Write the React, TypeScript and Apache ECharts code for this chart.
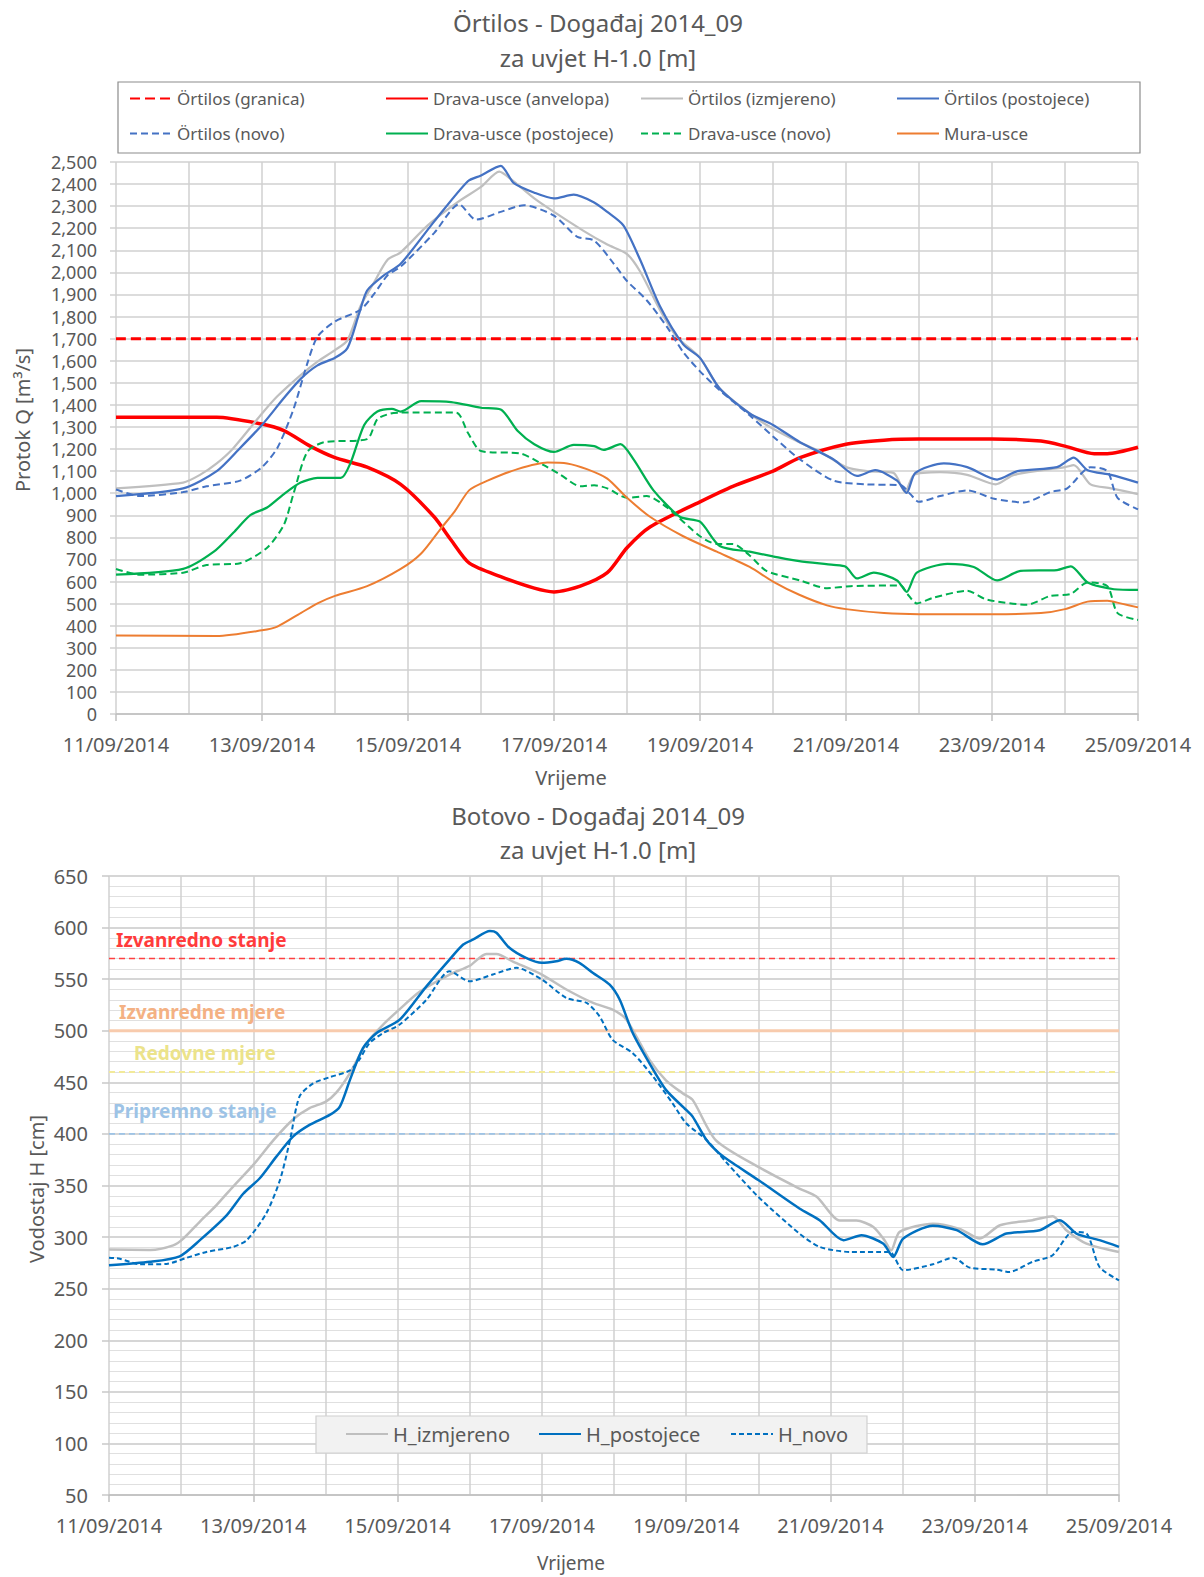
import React, { useEffect, useRef } from 'react';
import * as echarts from 'echarts';

// ---------- DATA ----------
// x = days since 11/09/2014 00:00
const startDay = 11;

const ortilosGranica: [number, number][] = [[0, 1700], [14, 1700]];
const dravaAnvelopa: [number, number][] = [[0, 1344], [1.38, 1344], [2.0, 1313], [2.3, 1283], [2.66, 1213], [3.0, 1161], [3.44, 1118], [3.9, 1040], [4.36, 892], [4.59, 788], [4.84, 683], [5.27, 622], [5.73, 570], [6.0, 553], [6.36, 579], [6.73, 640], [7.0, 753], [7.32, 848], [8.0, 961], [8.45, 1031], [9.0, 1100], [9.37, 1161], [10.0, 1222], [10.52, 1240], [11.0, 1245], [12.0, 1245], [12.67, 1236], [13.0, 1213], [13.4, 1179], [13.58, 1179], [14, 1208]];
const ortilosIzmjereno: [number, number][] = [[0, 1022], [0.92, 1048], [1.15, 1083], [1.38, 1135], [1.61, 1205], [2.0, 1361], [2.21, 1439], [2.53, 1535], [2.76, 1596], [3.0, 1648], [3.17, 1692], [3.35, 1848], [3.53, 1952], [3.72, 2057], [3.9, 2091], [4.27, 2213], [4.68, 2318], [5.0, 2387], [5.25, 2456], [5.41, 2422], [5.73, 2335], [6.0, 2274], [6.41, 2187], [6.73, 2126], [7.0, 2083], [7.18, 2004], [7.45, 1831], [7.68, 1709], [8.0, 1613], [8.27, 1474], [8.68, 1361], [9.0, 1292], [9.36, 1231], [9.65, 1187], [10.0, 1118], [10.29, 1100], [10.65, 1092], [10.81, 1005], [10.93, 1083], [11.29, 1095], [11.66, 1083], [12.05, 1040], [12.3, 1083], [13.0, 1118], [13.12, 1127], [13.35, 1040], [13.63, 1022], [14, 996]];
const ortilosPostojece: [number, number][] = [[0, 987], [0.92, 1022], [1.38, 1100], [1.7, 1205], [2.0, 1309], [2.3, 1431], [2.53, 1518], [2.76, 1579], [3.0, 1613], [3.17, 1657], [3.33, 1813], [3.44, 1918], [3.67, 1987], [3.9, 2039], [4.36, 2231], [4.82, 2413], [5.0, 2439], [5.27, 2483], [5.45, 2404], [5.73, 2361], [6.0, 2335], [6.27, 2352], [6.55, 2317], [6.73, 2274], [6.95, 2213], [7.18, 2057], [7.45, 1848], [7.77, 1674], [8.0, 1613], [8.27, 1474], [8.68, 1361], [9.0, 1309], [9.37, 1231], [9.83, 1153], [10.15, 1078], [10.4, 1104], [10.7, 1057], [10.83, 1001], [10.95, 1092], [11.34, 1135], [11.66, 1118], [12.07, 1062], [12.35, 1100], [12.89, 1118], [13.12, 1161], [13.31, 1104], [13.63, 1083], [14, 1048]];
const ortilosNovo: [number, number][] = [[0, 1017], [0.33, 987], [0.92, 1005], [1.24, 1031], [1.7, 1057], [2.0, 1118], [2.21, 1205], [2.43, 1379], [2.62, 1587], [2.76, 1709], [3.0, 1778], [3.35, 1831], [3.53, 1900], [3.72, 1987], [3.9, 2026], [4.36, 2179], [4.7, 2309], [4.93, 2239], [5.27, 2274], [5.59, 2304], [6.0, 2257], [6.32, 2161], [6.55, 2144], [6.82, 2039], [7.0, 1961], [7.27, 1874], [7.55, 1752], [7.77, 1639], [8.0, 1552], [8.27, 1466], [8.68, 1353], [9.0, 1257], [9.37, 1153], [9.83, 1057], [10.29, 1040], [10.75, 1036], [10.88, 996], [11.0, 961], [11.29, 987], [11.66, 1013], [12.03, 975], [12.44, 958], [12.8, 1005], [13.03, 1022], [13.35, 1118], [13.58, 1100], [13.72, 979], [14, 927]];
const dravaPostojece: [number, number][] = [[0, 631], [0.92, 657], [1.34, 735], [1.61, 822], [1.84, 901], [2.07, 935], [2.3, 996], [2.53, 1048], [2.76, 1069], [3.08, 1069], [3.21, 1135], [3.4, 1309], [3.58, 1370], [3.78, 1382], [3.9, 1370], [4.18, 1417], [4.59, 1413], [5.0, 1387], [5.27, 1379], [5.5, 1283], [5.73, 1222], [6.0, 1187], [6.27, 1219], [6.55, 1213], [6.68, 1196], [6.91, 1222], [7.09, 1153], [7.36, 1014], [7.73, 892], [8.0, 871], [8.27, 761], [8.68, 735], [9.0, 714], [9.36, 692], [9.83, 675], [10.0, 666], [10.15, 614], [10.38, 640], [10.7, 605], [10.83, 553], [10.97, 640], [11.39, 680], [11.75, 666], [12.07, 605], [12.39, 648], [12.89, 652], [13.08, 669], [13.31, 596], [13.67, 565], [14, 562]];
const dravaNovo: [number, number][] = [[0, 657], [0.33, 631], [0.92, 640], [1.24, 675], [1.7, 683], [2.07, 753], [2.3, 857], [2.43, 996], [2.62, 1187], [2.85, 1231], [3.44, 1245], [3.58, 1335], [3.76, 1361], [3.9, 1365], [4.66, 1365], [4.82, 1274], [5.0, 1191], [5.55, 1179], [5.86, 1127], [6.09, 1083], [6.36, 1031], [6.55, 1036], [6.73, 1022], [7.0, 979], [7.27, 987], [7.55, 935], [8.0, 805], [8.23, 770], [8.45, 770], [8.68, 718], [8.91, 648], [9.37, 605], [9.74, 570], [10.06, 579], [10.75, 582], [10.84, 544], [10.97, 501], [11.2, 527], [11.66, 558], [11.93, 518], [12.48, 495], [12.8, 535], [13.08, 544], [13.31, 596], [13.58, 579], [13.72, 457], [14, 426]];
const muraUsce: [number, number][] = [[0, 356], [1.38, 353], [2.0, 379], [2.21, 396], [2.53, 457], [2.76, 501], [3.0, 535], [3.44, 579], [3.9, 657], [4.18, 727], [4.45, 840], [4.64, 918], [4.84, 1014], [5.09, 1057], [5.5, 1109], [5.91, 1139], [6.18, 1135], [6.45, 1109], [6.73, 1066], [7.0, 979], [7.32, 892], [7.77, 805], [8.23, 735], [8.68, 666], [9.0, 600], [9.36, 540], [9.74, 492], [10.0, 475], [10.52, 457], [11.0, 452], [12.0, 452], [12.67, 457], [13.0, 475], [13.31, 509], [13.58, 513], [13.76, 501], [14, 483]];

const hIzmjereno: [number, number][] = [[0, 288], [0.57, 287.5], [0.89, 292], [1.03, 298.5], [1.26, 315], [1.49, 331], [1.72, 349], [2.0, 370], [2.28, 394], [2.55, 414], [2.78, 425], [3.0, 431], [3.15, 440], [3.34, 459], [3.57, 488], [3.8, 506], [4.03, 521], [4.31, 538], [4.72, 554.5], [5.0, 563], [5.23, 574.5], [5.37, 574.5], [5.6, 567], [6.0, 554.5], [6.34, 540], [6.71, 527], [6.98, 520.5], [7.17, 511], [7.49, 472], [7.72, 452], [7.95, 439.5], [8.09, 433], [8.41, 394], [9.0, 368], [9.57, 347], [9.81, 339], [10.13, 316], [10.36, 316], [10.59, 310], [10.75, 297], [10.84, 287], [10.96, 305], [11.42, 313], [11.79, 308], [12.07, 298.6], [12.35, 311.5], [12.8, 316.4], [13.08, 320.3], [13.27, 306.7], [13.55, 293.7], [14, 285.6]];
const hPostojece: [number, number][] = [[0, 272.7], [0.57, 276], [0.98, 281.4], [1.26, 297], [1.63, 321], [1.86, 342], [2.09, 357], [2.32, 378], [2.55, 397.4], [2.78, 408.7], [3.06, 418.4], [3.2, 426.5], [3.34, 452.4], [3.52, 483.2], [3.71, 497.8], [4.03, 510.7], [4.4, 543], [4.72, 569], [4.91, 583.6], [5.05, 588.5], [5.28, 596.6], [5.37, 595], [5.55, 580.4], [5.78, 570.6], [6.0, 565.8], [6.2, 567.4], [6.34, 569.7], [6.52, 565.8], [6.71, 556], [6.94, 544.7], [7.08, 530], [7.26, 497.8], [7.49, 468.6], [7.72, 442.7], [8.0, 423.3], [8.09, 416.8], [8.28, 394.4], [8.46, 381.2], [8.65, 371.5], [9.0, 355.3], [9.57, 327.7], [9.85, 316.4], [10.18, 297], [10.43, 301.8], [10.73, 293.7], [10.87, 280.8], [11.01, 298.6], [11.42, 311], [11.75, 306.7], [12.11, 293], [12.44, 303.4], [12.9, 306.7], [13.18, 316.4], [13.41, 303.4], [13.73, 297], [14, 290.5]];
const hNovo: [number, number][] = [[0, 280], [0.15, 279], [0.43, 273.6], [0.8, 274], [1.08, 280], [1.35, 285.6], [1.72, 290.5], [1.91, 297], [2.18, 323], [2.37, 355.3], [2.51, 394.4], [2.64, 436.2], [2.83, 449], [3.06, 455], [3.34, 461.5], [3.47, 472], [3.61, 488], [3.8, 497.8], [4.03, 506], [4.4, 530], [4.72, 557.7], [5.0, 548], [5.32, 554.5], [5.65, 561], [6.0, 549.6], [6.34, 531.8], [6.62, 527], [6.8, 514], [6.98, 491.3], [7.26, 478.3], [7.54, 455.7], [7.81, 429.8], [8.0, 410.3], [8.28, 394.4], [8.55, 373], [9.0, 339], [9.57, 303.4], [9.85, 290.5], [10.27, 285.6], [10.82, 285.6], [11.01, 267.8], [11.42, 273.6], [11.7, 280], [11.93, 270.4], [12.3, 268.5], [12.48, 266.2], [12.8, 276], [13.08, 282.4], [13.36, 305], [13.55, 303.4], [13.73, 271], [14, 258]];

const thresholdNames = ['Izvanredno stanje', 'Izvanredne mjere', 'Redovne mjere', 'Pripremno stanje'];
const thresholdValues = [570, 500, 460, 400];

// ---------- STYLE ----------
const FONT = "'Noto Sans', 'Open Sans', sans-serif";
const TXT = '#595959';
const GRID = '#d0d0d0';

const dayLabel = (v: number) => `${startDay + v}/09/2014`;

const lineSeries = (name: string, data: [number, number][], color: string, width: number, idx: number, dash?: number[], z = 3) => ({
  name,
  type: 'line',
  xAxisIndex: idx,
  yAxisIndex: idx,
  data,
  symbol: 'none',
  showSymbol: false,
  smooth: 0.25,
  z,
  lineStyle: { color, width, type: dash ? dash : 'solid' },
  itemStyle: { color },
  silent: true,
});

const thresholdStyles = [
  { color: '#ff4040', width: 1.6, dash: [6, 4], text: '#ff3b3b', dx: 116, dy: 19 },
  { color: '#f8cbad', width: 3, dash: null, text: '#f4b183', dx: 119, dy: 19 },
  { color: '#f2ea9a', width: 2, dash: [6, 4], text: '#ece38a', dx: 134, dy: 19 },
  { color: '#9dc3e6', width: 1.6, dash: [6, 4], text: '#9dc3e6', dx: 113, dy: 23 },
];

export default function App() {
  const ref = useRef<HTMLDivElement>(null);
  useEffect(() => {
    const chart = echarts.init(ref.current!, null, { renderer: 'svg', width: 1204, height: 1577 });

    const xAxisBase = (gridIndex: number) => ({
      type: 'value',
      gridIndex,
      min: 0,
      max: 14,
      interval: 2,
      axisLine: { show: true, lineStyle: { color: '#bfbfbf', width: 1.5 } },
      axisTick: { show: true, length: 7, lineStyle: { color: '#bfbfbf', width: 1.5 } },
      axisLabel: { formatter: dayLabel, margin: 20, fontSize: 20, color: TXT, fontFamily: FONT, showMinLabel: true, showMaxLabel: true },
      splitLine: { show: true, lineStyle: { color: GRID, width: 1.5 } },
      minorTick: { show: false, splitNumber: 2 },
      minorSplitLine: { show: true, lineStyle: { color: GRID, width: 1.5 } },
    });

    const topNames = ['Örtilos (granica)', 'Drava-usce (anvelopa)', 'Örtilos (izmjereno)', 'Örtilos (postojece)', 'Örtilos (novo)', 'Drava-usce (postojece)', 'Drava-usce (novo)', 'Mura-usce'];
    const colX = [129, 385, 640, 896];
    const rowY = [90, 125];
    const topLegends = topNames.map((n, i) => ({
      data: [n],
      left: colX[i % 4],
      top: rowY[Math.floor(i / 4)],
      padding: 0,
      itemWidth: 42,
      itemHeight: 14,
      selectedMode: false,
      itemStyle: { opacity: 0 },
      textStyle: { fontSize: 17, color: TXT, fontFamily: FONT },
    }));
    const botNames = ['H_izmjereno', 'H_postojece', 'H_novo'];
    const botX = [345, 538, 730];
    const botLegends = botNames.map((n, i) => ({
      data: [n],
      left: botX[i],
      top: 1424,
      padding: 0,
      itemWidth: 42,
      itemHeight: 14,
      selectedMode: false,
      itemStyle: { opacity: 0 },
      z: 60,
      textStyle: { fontSize: 20, color: TXT, fontFamily: FONT },
    }));

    const thresholdSeries = thresholdValues.map((v, i) => ({
      name: thresholdNames[i],
      type: 'line',
      xAxisIndex: 1,
      yAxisIndex: 1,
      data: [[0, v], [14, v]],
      symbol: 'none',
      silent: true,
      z: 2,
      lineStyle: { color: thresholdStyles[i].color, width: thresholdStyles[i].width, type: thresholdStyles[i].dash || 'solid' },
    }));

    const titleText = (id: string, text: string, y: number) => ({
      id, type: 'text', x: 598, y,
      style: { text, fontSize: 24, fill: TXT, fontFamily: FONT, align: 'center', verticalAlign: 'middle' },
    });

    const option: any = {
      animation: false,
      backgroundColor: '#ffffff',
      grid: [
        { left: 116, top: 162, width: 1022, height: 552 },
        { left: 109, top: 876, width: 1010, height: 619 },
      ],
      xAxis: [xAxisBase(0), xAxisBase(1)],
      yAxis: [
        {
          type: 'value', gridIndex: 0, min: 0, max: 2500, interval: 100,
          axisLine: { show: false },
          axisTick: { show: true, length: 6, lineStyle: { color: GRID, width: 1.5 } },
          axisLabel: { formatter: (v: number) => v.toLocaleString('en-US'), margin: 19, fontSize: 18, lineHeight: 20, color: TXT, fontFamily: FONT },
          splitLine: { show: true, lineStyle: { color: GRID, width: 1.5 } },
        },
        {
          type: 'value', gridIndex: 1, min: 50, max: 650, interval: 50,
          axisLine: { show: false },
          axisTick: { show: true, length: 7, lineStyle: { color: '#c8c8c8', width: 1.5 } },
          axisLabel: { margin: 21, fontSize: 20, color: TXT, fontFamily: FONT },
          splitLine: { show: true, lineStyle: { color: '#c8c8c8', width: 1.5 } },
          minorTick: { show: false, splitNumber: 5 },
          minorSplitLine: { show: true, lineStyle: { color: '#e0e0e0', width: 1.2 } },
        },
      ],
      legend: [...topLegends, ...botLegends],
      series: [
        lineSeries('Örtilos (granica)', ortilosGranica, '#ff0000', 3, 0, [10, 5]),
        lineSeries('Drava-usce (anvelopa)', dravaAnvelopa, '#ff0000', 3.5, 0),
        lineSeries('Örtilos (izmjereno)', ortilosIzmjereno, '#bfbfbf', 2.25, 0),
        lineSeries('Örtilos (postojece)', ortilosPostojece, '#4472c4', 2.25, 0),
        lineSeries('Örtilos (novo)', ortilosNovo, '#4472c4', 2, 0, [7, 4]),
        lineSeries('Drava-usce (postojece)', dravaPostojece, '#00b050', 2.25, 0),
        lineSeries('Drava-usce (novo)', dravaNovo, '#00b050', 2, 0, [7, 4]),
        lineSeries('Mura-usce', muraUsce, '#ed7d31', 2, 0),
        ...thresholdSeries,
        lineSeries('H_izmjereno', hIzmjereno, '#bfbfbf', 2.5, 1),
        lineSeries('H_postojece', hPostojece, '#0070c0', 2.5, 1),
        lineSeries('H_novo', hNovo, '#0070c0', 2, 1, [5, 3]),
      ],
      graphic: [
        titleText('t1', 'Örtilos - Događaj 2014_09', 22),
        titleText('t2', 'za uvjet H-1.0 [m]', 57),
        titleText('t3', 'Botovo - Događaj 2014_09', 815),
        titleText('t4', 'za uvjet H-1.0 [m]', 849),
        {
          id: 'lgbox1', type: 'rect', z: 1,
          shape: { x: 118, y: 82, width: 1022, height: 71 },
          style: { fill: 'rgba(0,0,0,0)', stroke: '#8c8c8c', lineWidth: 1.2 },
        },
        {
          id: 'lgbox2', type: 'rect', z: 50,
          shape: { x: 316, y: 1416, width: 551, height: 37 },
          style: { fill: '#f2f2f2', stroke: '#d0d0d0', lineWidth: 1.2 },
        },
        {
          id: 'yname1', type: 'text', x: 22, y: 420, rotation: Math.PI / 2,
          style: { text: 'Protok Q [m³/s]', fontSize: 20, fill: TXT, fontFamily: FONT, align: 'center', verticalAlign: 'middle' },
        },
        {
          id: 'yname2', type: 'text', x: 36, y: 1189, rotation: Math.PI / 2,
          style: { text: 'Vodostaj H [cm]', fontSize: 20, fill: TXT, fontFamily: FONT, align: 'center', verticalAlign: 'middle' },
        },
        {
          id: 'xname1', type: 'text', x: 571, y: 777,
          style: { text: 'Vrijeme', fontSize: 20, fill: TXT, fontFamily: FONT, align: 'center', verticalAlign: 'middle' },
        },
        {
          id: 'xname2', type: 'text', x: 571, y: 1563,
          style: { text: 'Vrijeme', fontSize: 19, fill: TXT, fontFamily: FONT, align: 'center', verticalAlign: 'middle' },
        },
      ],
    };
    chart.setOption(option);

    const labels = thresholdValues.map((v, i) => {
      const p = chart.convertToPixel({ gridIndex: 1 } as any, [0, v]) as number[];
      const s = thresholdStyles[i];
      return {
        id: 'thr' + i, type: 'text', x: s.dx, y: p[1] - s.dy, z: 5,
        style: { text: thresholdNames[i], fontSize: 19, fontWeight: 'bold', fill: s.text, fontFamily: FONT, align: 'left', verticalAlign: 'middle' },
      };
    });
    chart.setOption({ graphic: labels });

    return () => chart.dispose();
  }, []);
  return <div ref={ref} style={{ position: 'absolute', left: 0, top: 0, width: 1204, height: 1577 }} />;
}
